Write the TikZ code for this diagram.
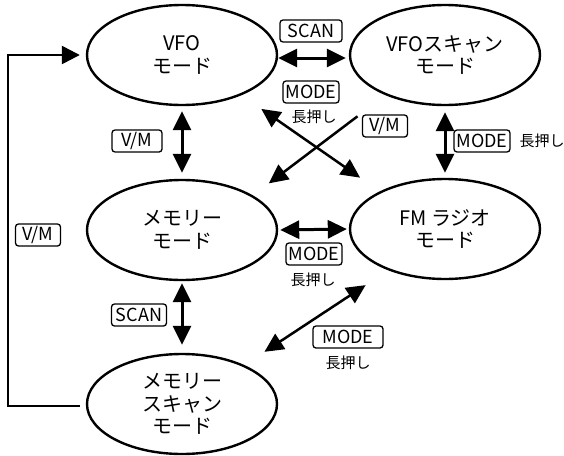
\documentclass[tikz,border=0pt]{standalone}
\usepackage{fontspec}
\setmainfont{Noto Sans CJK JP}
\usepackage{tikz}
\usetikzlibrary{arrows.meta,shapes.geometric}
\tikzset{>={Triangle[length=19pt,width=18pt]}}
\tikzset{
    modestate/.style={ellipse,draw,line width=2.4pt,minimum width=190pt,minimum height=100pt,inner sep=0pt,align=center,font=\fontsize{20}{22.5}\selectfont},
    keybox/.style={rectangle,rounded corners=3pt,draw,line width=1.3pt,inner xsep=2.5pt,inner ysep=0pt,minimum height=22pt,font=\fontsize{18}{20}\selectfont},
    hold/.style={rectangle,inner sep=0pt,font=\fontsize{15}{17}\selectfont},
    bigboth/.style={arrows={<->},line width=3pt},
    diagboth/.style={arrows={<->},line width=2.5pt},
    diagone/.style={arrows={->},line width=2.5pt},
    backline/.style={arrows={->},line width=2.5pt,>={Triangle[length=18pt,width=18pt]}},
}
\begin{document}
\begin{tikzpicture}[x=1pt,y=-1pt]
		\useasboundingbox (0,0) rectangle (564,455);
		\node[modestate] (vfo) at (182,55) {VFO\\モード};
		\node[modestate] (vfoscan) at (445,55) {VFOスキャン\\モード};
		\node[modestate] (mem) at (182,230) {メモリー\\モード};
		\node[modestate] (fm) at (445,229) {FM ラジオ\\モード};
		\node[modestate] (memscan) at (182,404) {メモリー\\スキャン\\モード};

		\node[keybox,minimum width=62pt] (scantop) at (311,31) {SCAN};
		\node[keybox] (modecross) at (311,92) {MODE};
		\node[hold] (holdcross) at (314,117) {長押し};
		\node[keybox,minimum width=45pt] (vmcross) at (385,126) {V/M};
		\node[keybox,minimum width=50pt] (vmleft) at (137,141) {V/M};
		\node[keybox] (moderight) at (482,141) {MODE};
		\node[hold] (holdright) at (542,141) {長押し};
		\node[keybox] (modemid) at (314,254) {MODE};
		\node[hold] (holdmid) at (313,280) {長押し};
		\node[keybox,minimum width=55pt] (scanlow) at (139,315) {SCAN};
		\node[keybox,minimum width=70pt] (modediag) at (348,337) {MODE};
		\node[hold] (holddiag) at (348,363) {長押し};
		\node[keybox,minimum width=45pt] (vmloop) at (38,235) {V/M};

		\draw[bigboth,shorten <=0pt,shorten >=3pt] ([yshift=-3pt]vfo.east) -- ([yshift=-3pt]vfoscan.west);
		\draw[bigboth,shorten <=5pt,shorten >=6pt] (vfo.south) -- (mem.north);
		\draw[bigboth,shorten <=6pt,shorten >=5pt] (vfoscan.south) -- (fm.north);
		\draw[bigboth,shorten <=2pt,shorten >=2pt] (mem.east) -- (fm.west);
		\draw[bigboth,shorten <=2pt,shorten >=8pt] (mem.south) -- (memscan.north);
		\draw[diagboth,shorten <=24pt,shorten >=24pt] (vfo.326) -- (fm.150);
		\draw[diagone,shorten <=35pt,shorten >=20pt] (vfoscan.214) -- (mem.26);
		\draw[diagboth,shorten <=24pt,shorten >=27pt] (memscan.32) -- (fm.216);
		\draw[backline,shorten <=6pt,shorten >=6pt] ([yshift=-2pt]memscan.west) -- ++(-78,0) |- (vfo.west);
	\end{tikzpicture}
\end{document}
